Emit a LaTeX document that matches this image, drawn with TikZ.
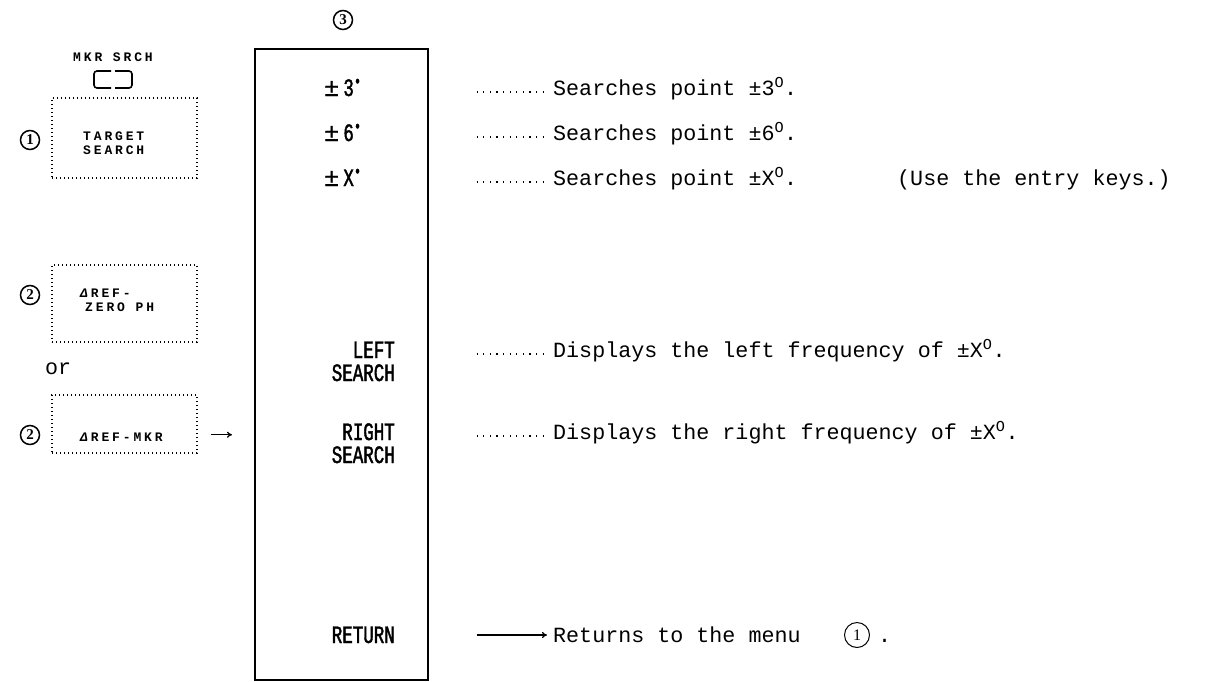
\documentclass[tikz,border=0pt]{standalone}
\usepackage{fontspec}
\setmainfont{Liberation Mono}
\newfontfamily\menufont[FakeStretch=0.7,FakeBold=1.6]{Liberation Mono}
\newfontfamily\plainmono[FakeBold=1.2]{Liberation Mono}
\newfontfamily\keyfont[LetterSpace=22]{Liberation Mono}
\newfontfamily\numfont{Liberation Serif}
\usetikzlibrary{arrows.meta}
\newcommand{\pmsign}{{\plainmono ±}}
\tikzset{
  txt/.style={inner sep=0pt, anchor=base west, font=\fontsize{21.7}{24}\selectfont},
  menulabel/.style={inner sep=0pt, anchor=base east, font=\menufont\fontsize{25}{28}\selectfont},
  pmlabel/.style={inner sep=0pt, anchor=base west, font=\menufont\fontsize{25}{28}\selectfont},
  keytxt/.style={inner sep=0pt, anchor=base west, font=\keyfont\bfseries\fontsize{13}{15}\selectfont},
  keybox/.style={draw, line width=1.4pt, dash pattern=on 1.4pt off 2.6pt, inner sep=0pt, minimum width=145pt},
  circnum/.style={draw, circle, line width=1.5pt, inner sep=0pt, minimum size=19pt, font=\numfont\bfseries\fontsize{15}{15}\selectfont},
  leader/.style={line width=1.1pt, dash pattern=on 1.1pt off 5.5pt, shorten <=48pt, shorten >=8pt},
}
\begin{document}
\begin{tikzpicture}[x=1pt,y=-1pt]
\useasboundingbox (0,0) rectangle (1207,681);

% menu box
\node[draw, line width=1.6pt, inner sep=0pt, minimum width=173pt, minimum height=631pt, anchor=north west] (menu) at (254,48) {};
\node[circnum] (c3) at (343,20) {3};

% menu labels
\node[pmlabel] (m1) at (324,96) {\pmsign\,3\textsuperscript{•}};
\node[pmlabel] (m2) at (324,141) {\pmsign\,6\textsuperscript{•}};
\node[pmlabel] (m3) at (324,186) {\pmsign\,X\textsuperscript{•}};
\node[menulabel] (m4a) at (395,358) {LEFT};
\node[menulabel] (m4b) at (395,381) {SEARCH};
\node[menulabel] (m5a) at (395,440) {RIGHT};
\node[menulabel] (m5b) at (395,463) {SEARCH};
\node[menulabel] (m6) at (395,643) {RETURN};

% descriptions
\node[txt] (t1) at (553,95) {Searches point ±3\textsuperscript{O}.};
\node[txt] (t2) at (553,140) {Searches point ±6\textsuperscript{O}.};
\node[txt] (t3) at (553,185) {Searches point ±X\textsuperscript{O}.};
\node[txt] (t3b) at (897,185) {(Use the entry keys.)};
\node[txt] (t4) at (553,357) {Displays the left frequency of ±X\textsuperscript{O}.};
\node[txt] (t5) at (553,439) {Displays the right frequency of ±X\textsuperscript{O}.};
\node[txt] (t6) at (553,642) {Returns to the menu};
\node[draw, circle, line width=1pt, inner sep=0pt, minimum size=25pt, font=\numfont\fontsize{16}{16}\selectfont] (c1r) at (857,635) {1};
\node[txt, anchor=base west] (t6b) at (878,642) {.};

% leaders
\draw[leader] ([yshift=3pt]menu.east |- t1.base west) -- ([yshift=3pt]t1.base west);
\draw[leader] ([yshift=3pt]menu.east |- t2.base west) -- ([yshift=3pt]t2.base west);
\draw[leader] ([yshift=3pt]menu.east |- t3.base west) -- ([yshift=3pt]t3.base west);
\draw[leader] ([yshift=3pt]menu.east |- t4.base west) -- ([yshift=3pt]t4.base west);
\draw[leader] ([yshift=3pt]menu.east |- t5.base west) -- ([yshift=3pt]t5.base west);
\draw[line width=1.3pt, -{To[length=5pt,width=6pt]}, shorten <=48pt, shorten >=6pt] ([yshift=7pt]menu.east |- t6.base west) -- ([yshift=7pt]t6.base west);

% left: hard key
\node[keytxt, anchor=base] (mkr) at (113,61) {MKR SRCH};
\draw[line width=1.6pt, rounded corners=3pt] (111,71) -- (94,71) -- (94,88) -- (111,88);
\draw[line width=1.6pt, rounded corners=3pt] (115,71) -- (132,71) -- (132,88) -- (115,88);

% soft keys
\node[keybox, minimum height=80pt] (k1) at (124.5,138) {};
\node[keytxt] (k1a) at (83,140) {TARGET};
\node[keytxt] (k1b) at (83,154) {SEARCH};
\node[circnum] (c1) at (30,140) {1};

\node[keybox, minimum height=77pt] (k2) at (124.5,303.5) {};
\node[keytxt] (k2a) at (80,297) {\textit{Δ}REF-};
\node[keytxt] (k2b) at (85,311) {ZERO PH};
\node[circnum] (c2) at (30,295) {2};

\node[txt] (or) at (45,374) {or};

\node[keybox, minimum height=58pt] (k3) at (124.5,424) {};
\node[keytxt] (k3a) at (80,441) {\textit{Δ}REF-MKR};
\node[circnum] (c2b) at (30,435) {2};
\draw[line width=1.3pt, -{To[length=5pt,width=6pt]}, shorten <=13pt, shorten >=22pt] ([yshift=2pt]k3.east |- k3a.east) -- ([yshift=2pt]menu.west |- k3a.east);
\end{tikzpicture}
\end{document}
